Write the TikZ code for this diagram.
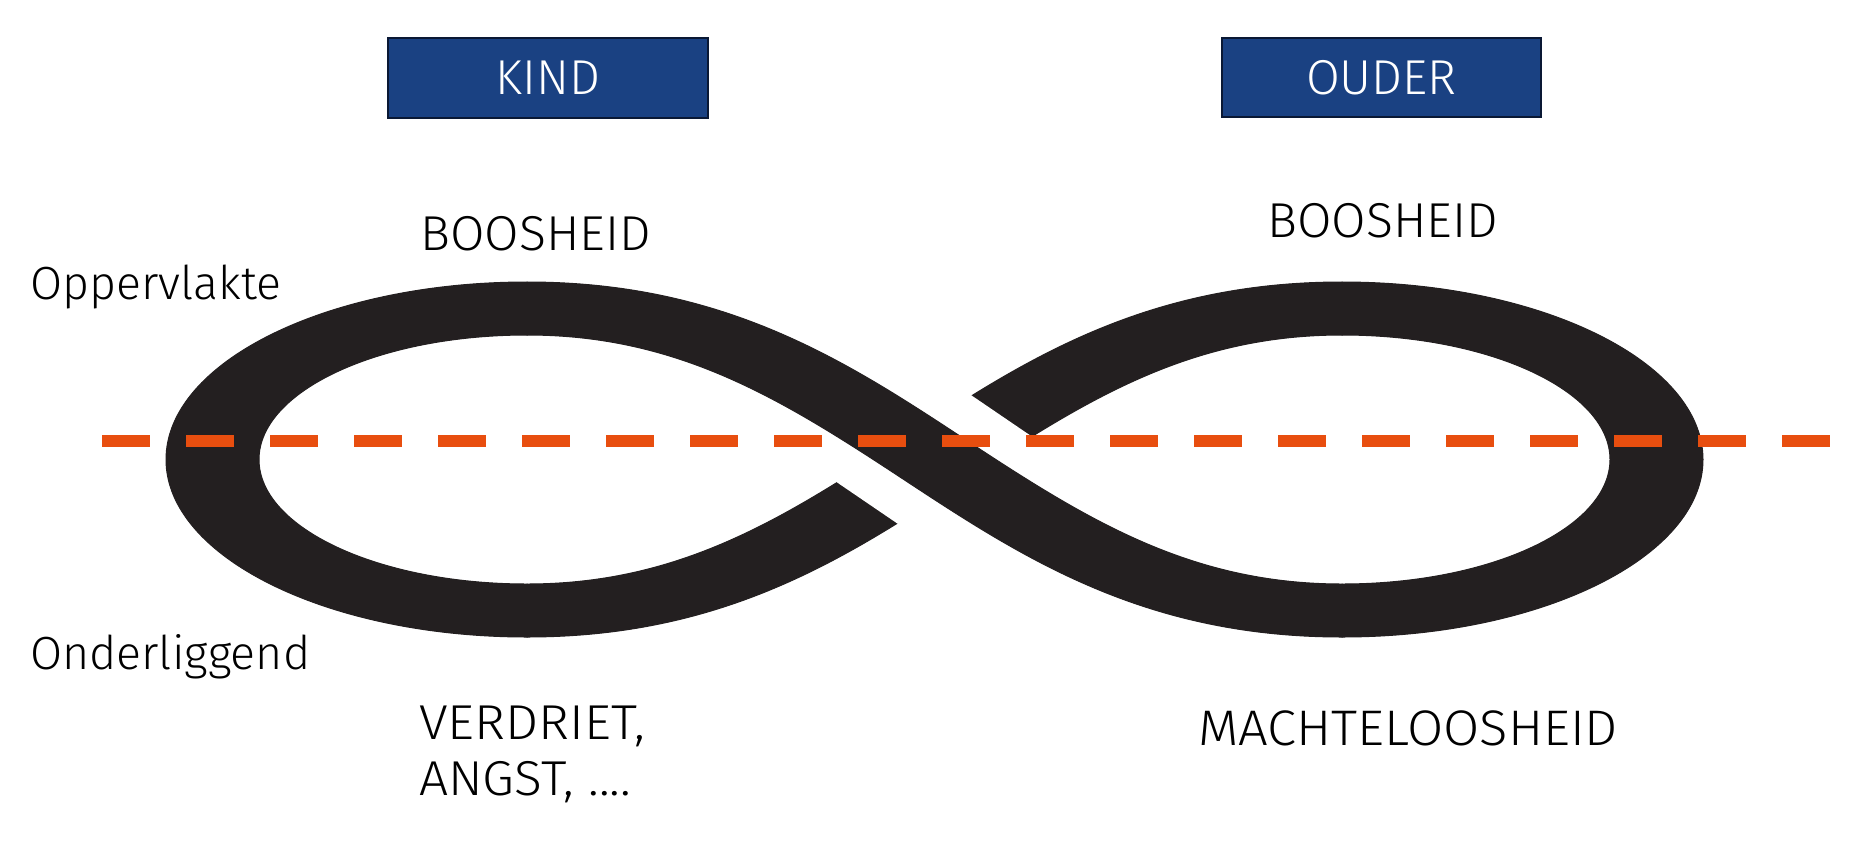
\documentclass[tikz,border=0pt]{standalone}
\usepackage{fontspec}
\setmainfont{Fira Sans Light}
\definecolor{bandblack}{RGB}{35,31,32}
\definecolor{dashorange}{RGB}{232,78,15}
\definecolor{boxblue}{RGB}{26,65,130}
\definecolor{boxedge}{RGB}{10,24,52}
\begin{document}
\begin{tikzpicture}[x=1pt,y=-1pt,
  band/.style={fill=bandblack, draw=bandblack, line width=1pt},
  hdr/.style={draw=boxedge, line width=2pt, fill=boxblue, text=white,
    font=\fontsize{49}{56}\selectfont, inner sep=0pt},
  lbl/.style={anchor=base west, inner sep=0pt, text=black,
    font=\fontsize{49}{56}\selectfont},
  side/.style={lbl, font=\fontsize{46.5}{56}\selectfont},
  dashline/.style={draw=dashorange, line width=12pt, dash pattern=on 48pt off 36pt}]
\useasboundingbox (0,0) rectangle (1856,852);
\fill[white] (0,0) rectangle (1856,852);

% under band (left-bottom to right-top)
\path[band] (527,584) .. controls (677,584) and (780,521) .. (900,442)
  .. controls (1020,363) and (1142,282) .. (1342,282) -- (1342,335)
  .. controls (1192,335) and (1089,398) .. (969,477)
  .. controls (849,556) and (727,637) .. (527,637) -- cycle;
% gap where the over band passes
\fill[white] (766,434) -- (970,573) -- (1103,485) -- (899,346) -- cycle;
% left lobe
\path[band] (527,282) .. controls (328,282) and (166,362) .. (166,459.5)
  .. controls (166,557) and (328,637) .. (527,637) -- (527,584)
  .. controls (379,584) and (259,528) .. (259,459.5)
  .. controls (259,391) and (379,335) .. (527,335) -- cycle;
% right lobe
\path[band] (1342,282) .. controls (1541,282) and (1703,362) .. (1703,459.5)
  .. controls (1703,557) and (1541,637) .. (1342,637) -- (1342,584)
  .. controls (1490,584) and (1610,528) .. (1610,459.5)
  .. controls (1610,391) and (1490,335) .. (1342,335) -- cycle;
% over band (left-top to right-bottom)
\path[band] (527,335) .. controls (677,335) and (780,398) .. (900,477)
  .. controls (1020,556) and (1142,637) .. (1342,637) -- (1342,584)
  .. controls (1192,584) and (1089,521) .. (969,442)
  .. controls (849,363) and (727,282) .. (527,282) -- cycle;

% dashed level line
\coordinate (dl) at (102,441);
\coordinate (dr) at (1830,441);
\draw[dashline] (dl) -- (dr);

% header boxes
\node[hdr, minimum width=320pt, minimum height=80pt] (kind) at (548,78) {KIND};
\node[hdr, minimum width=319pt, minimum height=79pt] (ouder) at (1381.5,77.5) {OUDER};

% labels
\node[side] (opp) at (30,299) {Oppervlakte};
\node[side] (ond) at (30,669) {Onderliggend};
\node[lbl] (booskind) at (420,250) {\scalebox{1.02}[1]{BOOSHEID}};
\node[lbl] (boosouder) at (1267,237) {\scalebox{1.02}[1]{BOOSHEID}};
\node[lbl] (verdriet) at (419,739) {\scalebox{1.07}[1]{VERDRIET,}};
\node[lbl] (angst) at (419,795) {\scalebox{1.05}[1]{ANGST, ....}};
\node[lbl] (macht) at (1198,745) {\fontsize{50}{56}\selectfont\scalebox{1.05}[1]{MACHTELOOSHEID}};
\end{tikzpicture}
\end{document}
